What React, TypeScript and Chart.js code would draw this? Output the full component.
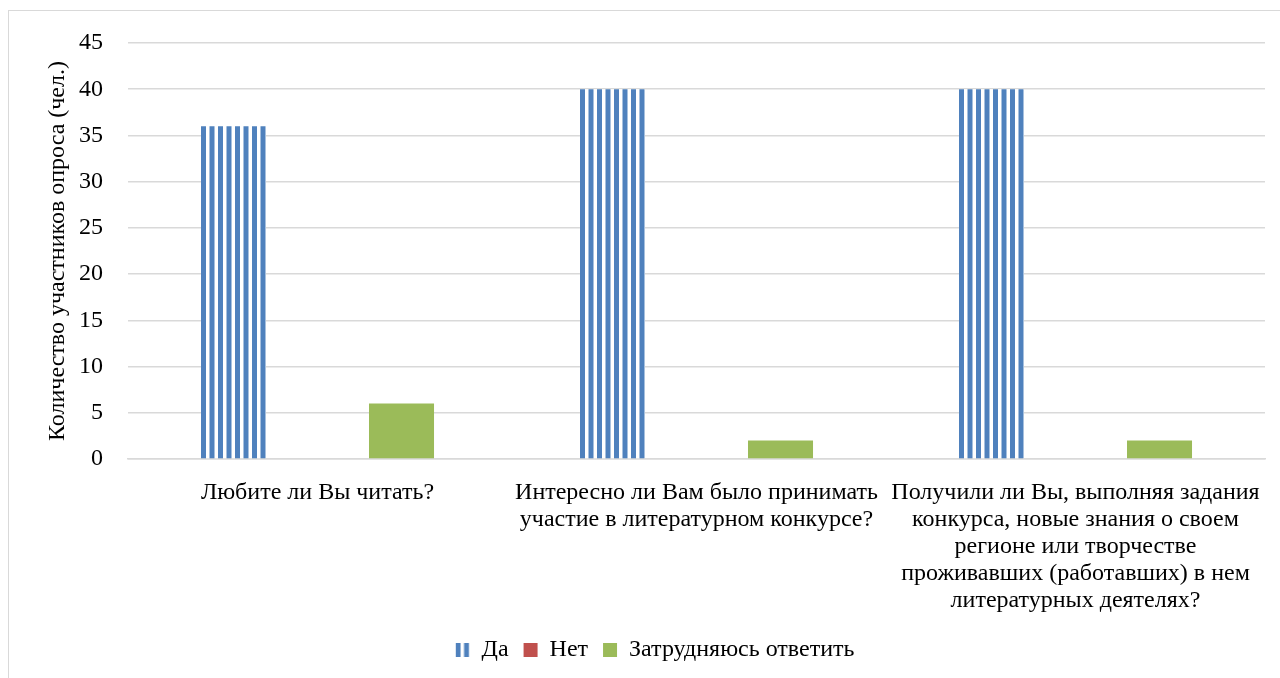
import React, { useEffect, useRef } from "react";
import { Chart, registerables } from "chart.js";

Chart.register(...registerables);

const categories: (string | string[])[] = [
  "Любите ли Вы читать?",
  ["Интересно ли Вам было принимать", "участие в литературном конкурсе?"],
  [
    "Получили ли Вы, выполняя задания",
    "конкурса, новые знания о своем",
    "регионе или творчестве",
    "проживавших (работавших) в нем",
    "литературных деятелях?",
  ],
];
const seriesNames = ["Да", "Нет", "Затрудняюсь ответить"];
const yesValues = [36, 40, 40];
const noValues = [0, 0, 0];
const unsureValues = [6, 2, 2];
const yTitle = "Количество участников опроса (чел.)";

const FONT = "'Liberation Serif', 'Times New Roman', serif";
const BLUE = "#4F81BD";
const CAT_PCT = 0.665;
const BAR_PCT = 0.774;

let tile: HTMLCanvasElement | null = null;
function stripes(offsetX: number): CanvasPattern | string {
  if (!tile) {
    tile = document.createElement("canvas");
    tile.width = 17;
    tile.height = 4;
    const t = tile.getContext("2d");
    if (t) {
      t.fillStyle = "#ffffff";
      t.fillRect(0, 0, 17, 4);
      t.fillStyle = BLUE;
      t.fillRect(0, 0, 5, 4);
      t.fillRect(8.5, 0, 5, 4);
    }
  }
  const ctx = tile.getContext("2d");
  if (!ctx) return BLUE;
  const p = ctx.createPattern(tile, "repeat");
  if (!p) return BLUE;
  try {
    p.setTransform(new DOMMatrix([1, 0, 0, 1, offsetX, 0]));
  } catch (e) {}
  return p;
}

const legendShift = {
  id: "legendShift",
  afterLayout(chart: any) {
    const lg = chart.legend;
    if (lg) {
      lg.left += 18;
      lg.right += 18;
    }
  },
  beforeDraw(chart: any) {
    const lg = chart.legend;
    if (lg && lg.legendItems && lg.legendItems[0] && lg.legendHitBoxes && lg.legendHitBoxes[0]) {
      lg.legendItems[0].fillStyle = stripes(lg.legendHitBoxes[0].left);
    }
  },
};

export default function App() {
  const ref = useRef<HTMLCanvasElement | null>(null);
  useEffect(() => {
    if (!ref.current) return;
    const chart = new Chart(ref.current, {
      type: "bar",
      data: {
        labels: categories,
        datasets: [
          {
            label: seriesNames[0],
            data: yesValues,
            backgroundColor: (c: any) => {
              try {
                const ch = c.chart;
                const xs = ch && ch.scales && ch.scales.x;
                const area = ch && ch.chartArea;
                if (!xs || !area || c.dataIndex === undefined || c.type !== "data") return stripes(0) as any;
                const catW = (area.right - area.left) / categories.length;
                const slot = (catW * CAT_PCT) / 3;
                const bw = slot * BAR_PCT;
                const left = xs.getPixelForValue(c.dataIndex) - slot - bw / 2;
                return stripes(left) as any;
              } catch (e) {
                return stripes(0) as any;
              }
            },
            borderWidth: 0,
          },
          { label: seriesNames[1], data: noValues, backgroundColor: "#C0504D", borderWidth: 0 },
          { label: seriesNames[2], data: unsureValues, backgroundColor: "#9BBB59", borderWidth: 0 },
        ],
      },
      plugins: [legendShift],
      options: {
        responsive: false,
        animation: false,
        categoryPercentage: CAT_PCT,
        barPercentage: BAR_PCT,
        layout: { padding: { left: 0, right: 15, top: 32, bottom: 6 } },
        plugins: {
          tooltip: { enabled: false },
          legend: {
            position: "bottom",
            labels: {
              font: { family: FONT, size: 24 },
              color: "#000",
              boxWidth: 14,
              boxHeight: 14,
              padding: 15,
            },
          },
        },
        scales: {
          x: {
            grid: { display: false },
            border: { display: true, color: "#d9d9d9", width: 1.5 },
            ticks: {
              font: { family: FONT, size: 24, lineHeight: 1.13 },
              color: "#000",
              maxRotation: 0,
              autoSkip: false,
              padding: 12,
            },
            afterFit: (scale: any) => {
              scale.height = 164;
            },
          },
          y: {
            min: 0,
            max: 45,
            ticks: { stepSize: 5, font: { family: FONT, size: 24 }, color: "#000", padding: 25 },
            grid: { color: "#d9d9d9", lineWidth: 1.5, drawTicks: false },
            border: { display: false },
            title: {
              display: true,
              text: yTitle,
              font: { family: FONT, size: 24 },
              color: "#000",
              padding: { top: 34, bottom: 0 },
            },
            afterFit: (scale: any) => {
              scale.width = 119;
              scale.paddingTop = 0;
              scale.paddingBottom = 0;
            },
          },
        },
      },
    });
    return () => chart.destroy();
  }, []);
  return (
    <div
      style={{
        position: "fixed",
        left: 8,
        top: 10,
        width: 1300,
        height: 700,
        border: "1px solid #d9d9d9",
        background: "#fff",
      }}
    >
      <canvas ref={ref} width={1271} height={667} style={{ display: "block" }} />
    </div>
  );
}
